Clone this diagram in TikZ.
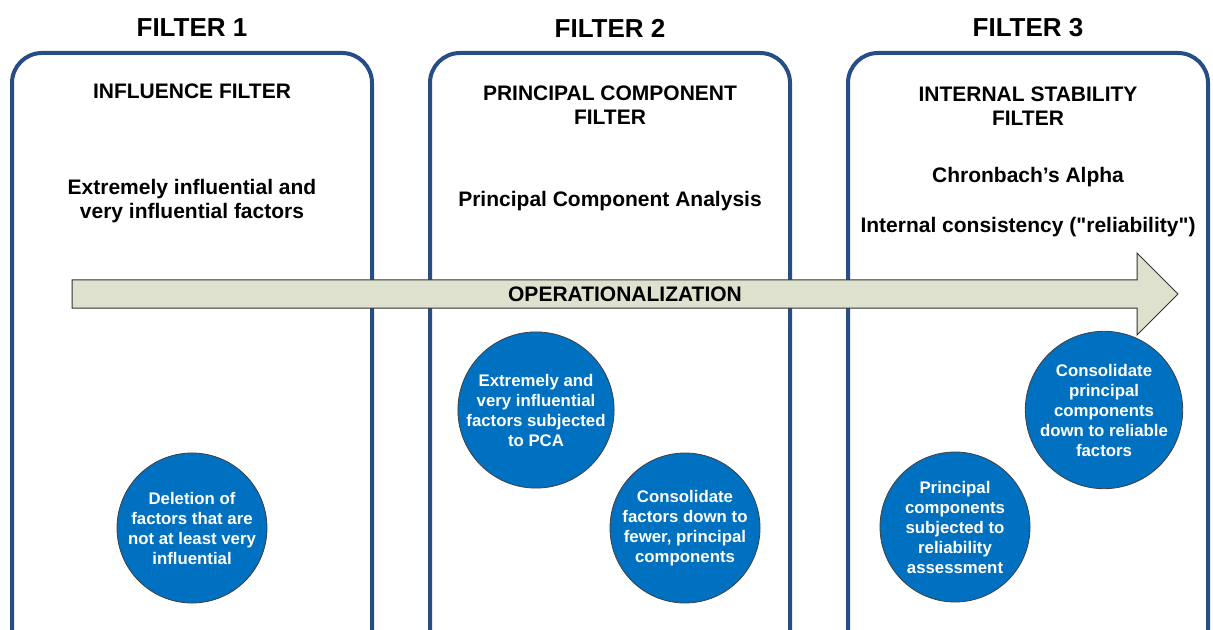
\documentclass[tikz,border=0pt]{standalone}
\usepackage{fontspec}
\setmainfont{Liberation Sans}
\definecolor{panelblue}{RGB}{38,77,133}
\definecolor{blobblue}{RGB}{0,112,192}
\definecolor{arrowfill}{RGB}{221,225,206}

\begin{document}
\begin{tikzpicture}[x=0.5pt,y=-0.5pt,
  panel/.style={draw=panelblue,line width=2pt,rounded corners=15pt},
  filterhead/.style={font=\bfseries\fontsize{13}{15}\selectfont},
  txt/.style={font=\bfseries\fontsize{10.5}{12.3}\selectfont,align=center},
  blob/.style={circle,draw=black!75,line width=0.4pt,fill=blobblue,text=white,
    minimum size=75pt,inner sep=0pt,align=center,
    font=\bfseries\fontsize{8.4}{10}\selectfont}]
\clip (0,0) rectangle (1213,630);
%headings
\node [filterhead] (h1) at (192,28) {FILTER 1};
\node [filterhead] (h2) at (610,28) {FILTER 2};
\node [filterhead] (h3) at (1028,28) {FILTER 3};
%panels
\draw [panel] (12,53) rectangle (372,670);
\draw [panel] (430,53) rectangle (790,670);
\draw [panel] (848,53) rectangle (1208,670);
%panel texts
\node [txt] (t1) at (192,91) {INFLUENCE FILTER};
\node [txt] (s1) at (192,201) {Extremely influential and\\very influential factors};
\node [txt] (t2) at (610,105) {PRINCIPAL COMPONENT\\FILTER};
\node [txt] (s2) at (610,201) {Principal Component Analysis};
\node [txt] (t3) at (1028,106) {INTERNAL STABILITY\\FILTER};
\node [txt] (s3) at (1028,177) {Chronbach’s Alpha};
\node [txt] (r3) at (1028,227) {Internal consistency (\textquotedbl reliability\textquotedbl)};
%big arrow
\draw [fill=arrowfill, draw=black!80, line width=0.5pt]
  (72,280) -- (1137,280) -- (1137,253) -- (1178,294) -- (1137,335) -- (1137,308) -- (72,308) -- cycle;
\node [txt] (op) at (625,294) {OPERATIONALIZATION};
%circles
\node [blob] (c1) at (192,528) {Deletion of\\factors that are\\not at least very\\influential};
\node [blob] (c2) at (536,410) {Extremely and\\very influential\\factors subjected\\to PCA};
\node [blob] (c3) at (685,528) {Consolidate\\factors down to\\fewer, principal\\components};
\node [blob] (c4) at (955,527) {Principal\\components\\subjected to\\reliability\\assessment};
\node [blob] (c5) at (1104,410) {Consolidate\\principal\\components\\down to reliable\\factors};
\end{tikzpicture}
\end{document}
